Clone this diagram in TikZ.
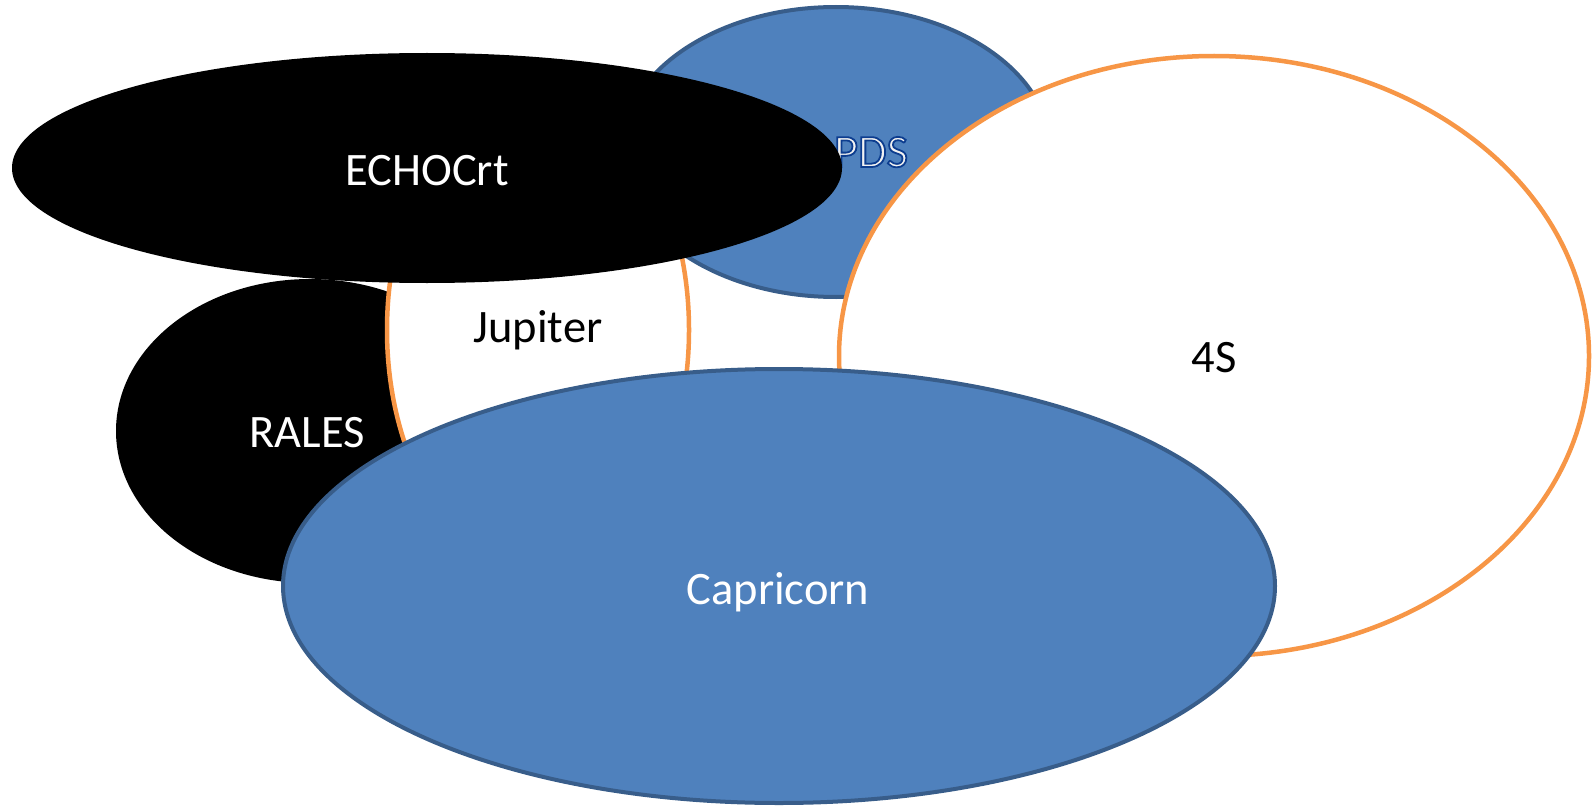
\documentclass[tikz,border=0pt]{standalone}
\usepackage{fontspec}
\setmainfont{Carlito}
\usepackage{tikz}
\usetikzlibrary{shapes.geometric}
\definecolor{cellblue}{HTML}{4F81BD}
\definecolor{celledge}{HTML}{385D8A}
\definecolor{ringorange}{HTML}{F79646}
\newcommand{\tagfont}{\fontsize{23.25}{28}\selectfont}
% outlined text: fill, then stroke in dark blue
\newcommand{\outlined}[1]{\special{pdf:code 2 Tr 0.9 w 0.05 0.24 0.56 RG}#1\special{pdf:code 0 Tr}}
\tikzset{%
	cell/.style = {name = #1, ellipse, draw = celledge, line width = 2pt, fill = cellblue, inner sep = 0pt},
	ring/.style = {name = #1, ellipse, draw = ringorange, line width = 2.25pt, fill = white, inner sep = 0pt},
	dark/.style = {name = #1, ellipse, fill = black, inner sep = 0pt},
	tag/.style = {anchor = base, inner sep = 0pt, font = \tagfont}
}

\begin{document}
\begin{tikzpicture}[x = 0.5pt, y = -0.5pt]
	\useasboundingbox (0,0) rectangle (1595,808);
	% back row
	\node [cell = {pds}, minimum width = 215pt, minimum height = 145pt] at (836,152) {};
	\node [tag, text = white!95!black] (pdstext) at (871,167) {\outlined{PDS}};
	\node [ring = {fours}, minimum width = 375pt, minimum height = 300pt] at (1214,356) {};
	\node [tag] (fourstext) at (1214,372) {4S};
	\node [dark = {rales}, minimum width = 194pt, minimum height = 152pt] at (310,431) {};
	\node [tag, white] (ralestext) at (307,447) {RALES};
	\node [ring = {jupiter}, minimum width = 151pt, minimum height = 240pt] at (538,330) {};
	\node [tag] (jupitertext) at (538,342) {Jupiter};
	% front row
	\node [dark = {echo}, minimum width = 415pt, minimum height = 115pt] at (427,168) {};
	\node [tag, white] (echotext) at (427,185) {ECHOCrt};
	\node [cell = {capricorn}, minimum width = 496pt, minimum height = 217pt] at (779,586) {};
	\node [tag, white] (capricorntext) at (778,604) {Capricorn};
\end{tikzpicture}
\end{document}
